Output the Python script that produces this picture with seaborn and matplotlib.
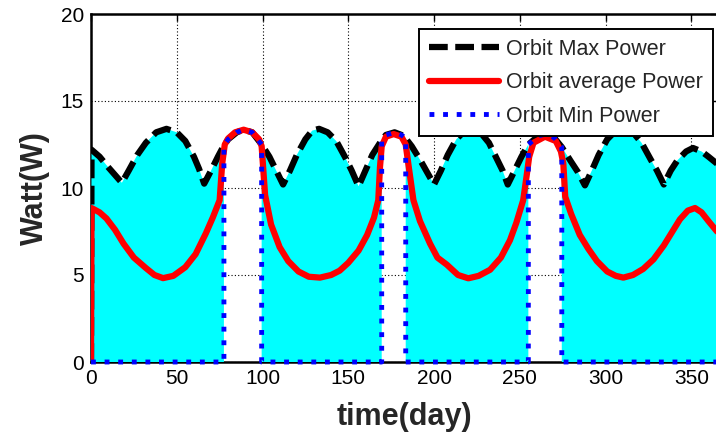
import numpy as np
import matplotlib
matplotlib.use("Agg")
import matplotlib.pyplot as plt
import seaborn as sns

# Orbit maximum power over one year (day, W)
max_day = [0, 0.3, 5, 10, 14, 18, 22, 27, 32, 38, 44, 50, 55, 60, 63, 66, 70, 74,
           77.5, 80, 85, 89, 94, 99.5, 104, 108, 112, 116, 120, 125, 129, 133, 138,
           143, 148, 152, 156, 160, 164, 169.5, 172, 177, 181, 183.5, 187, 192, 196,
           200, 204, 208, 213, 218, 222, 227, 232, 236, 240, 243, 247, 251, 255, 261,
           265, 270, 274.5, 280, 284, 288, 292, 296, 301, 306, 311, 316, 321, 326,
           330, 334, 338, 342, 347, 351, 356, 360, 365]
max_w = [0, 12.2, 11.8, 11.2, 10.75, 10.3, 11.0, 11.9, 12.6, 13.2, 13.4, 13.2, 12.7,
         11.8, 11.1, 10.25, 11.0, 11.8, 12.45, 12.8, 13.2, 13.35, 13.2, 12.5, 11.8,
         11.0, 10.2, 11.0, 11.9, 12.8, 13.3, 13.4, 13.2, 12.7, 11.8, 11.0, 10.1, 11.0,
         11.9, 12.75, 13.05, 13.2, 13.05, 12.85, 12.4, 11.6, 10.9, 10.2, 11.0, 11.9,
         12.8, 13.3, 13.4, 13.2, 12.6, 11.8, 11.0, 10.2, 11.0, 11.8, 12.5, 13.0, 13.1,
         12.9, 12.35, 11.5, 10.9, 10.15, 11.0, 11.9, 12.8, 13.3, 13.4, 13.2, 12.6,
         11.7, 11.0, 10.2, 11.0, 11.6, 12.1, 12.3, 12.1, 11.8, 11.4]

# Orbit average power (day, W)
avg_day = [0, 0.3, 5, 9, 14, 19, 25, 32, 37, 42, 48, 55, 61, 67, 71, 75, 76.5, 78,
           80, 84, 89, 94, 98, 99.5, 101.5, 105, 110, 115, 121, 127, 133.5, 140, 145,
           150, 156, 161, 165, 167.5, 168.5, 169.5, 172, 176.5, 181, 183.5, 185, 188,
           191.8, 197.7, 202, 207.4, 214, 220, 226, 232.7, 239, 244.3, 248, 252, 254,
           255.5, 258, 264.7, 271, 274, 275.4, 276.5, 280, 285, 290, 295, 301, 306,
           310.4, 316, 322, 328, 334, 339, 343.4, 348, 352.2, 356, 360, 365]
avg_w = [0, 8.85, 8.6, 8.25, 7.6, 6.8, 6.0, 5.4, 5.0, 4.82, 4.95, 5.45, 6.2, 7.4, 8.3,
         9.3, 11.4, 12.5, 12.85, 13.2, 13.35, 13.2, 12.8, 12.4, 9.6, 7.9, 6.6, 5.8,
         5.2, 4.9, 4.85, 5.0, 5.25, 5.7, 6.4, 7.3, 8.3, 9.3, 11.2, 12.4, 12.95, 13.1,
         12.95, 12.5, 11.4, 9.3, 8.1, 6.8, 6.0, 5.6, 5.0, 4.81, 4.95, 5.3, 6.0, 7.0,
         8.0, 9.3, 10.7, 11.8, 12.6, 12.95, 12.7, 12.1, 11.4, 9.5, 8.5, 7.3, 6.5, 5.8,
         5.2, 4.95, 4.85, 5.0, 5.35, 5.9, 6.7, 7.5, 8.2, 8.7, 8.85, 8.6, 8.1, 7.5]

# Eclipse-free seasons (minimum power equals maximum power)
sun_start = [77.5, 169.5, 255.0]
sun_end = [99.5, 183.5, 274.5]

x_ticks = [0, 50, 100, 150, 200, 250, 300, 350]
y_ticks = [0, 5, 10, 15, 20]
series_labels = ["Orbit Max Power", "Orbit average Power", "Orbit Min Power"]

sns.set_theme(style="white")
plt.rcParams["font.family"] = ["Liberation Sans", "DejaVu Sans"]

W, H = 716, 436
fig = plt.figure(figsize=(W / 100, H / 100), dpi=100)
ax = fig.add_axes([91 / W, (H - 362) / H, 626 / W, 348 / H])

md = np.array(max_day)
mw = np.array(max_w)
sunlit = np.zeros(md.shape, dtype=bool)
for s, e in zip(sun_start, sun_end):
    sunlit |= (md > s) & (md < e)

# instantaneous power band (filled where the orbit has an eclipse)
ax.fill_between(md, 0, mw, where=~sunlit, color="#00ffff", linewidth=0, zorder=1)

# minimum power: zero in eclipse seasons, equal to the maximum otherwise
min_day, min_w = [0.0], [0.0]
for s, e in zip(sun_start, sun_end):
    inside = (md >= s) & (md <= e)
    min_day += [s] + list(md[inside]) + [e]
    min_w += [0.0] + list(mw[inside]) + [0.0]
min_day.append(365.0)
min_w.append(0.0)

sns.lineplot(x=max_day, y=max_w, ax=ax, estimator=None, sort=False, color="black",
             linewidth=4.5, linestyle=(0, (3, 1.2)), label=series_labels[0], zorder=3)
sns.lineplot(x=avg_day, y=avg_w, ax=ax, estimator=None, sort=False, color="red",
             linewidth=4.5, label=series_labels[1], zorder=4)
sns.lineplot(x=min_day, y=min_w, ax=ax, estimator=None, sort=False,
             color="blue", linewidth=3.5, linestyle=(0, (1, 1.8)),
             label=series_labels[2], zorder=5)
ax.lines[-1].set_clip_on(False)

ax.set_xlim(0, 365)
ax.set_ylim(0, 20)
ax.set_xticks(x_ticks)
ax.set_yticks(y_ticks)
ax.grid(True, color="black", linestyle=(0, (1, 2)), linewidth=0.8)
ax.set_axisbelow(True)
ax.tick_params(direction="in", length=5, width=1, top=True, right=True,
               labelsize=15, pad=5, colors="black")
for name, sp in ax.spines.items():
    sp.set_visible(True)
    sp.set_color("black")
    sp.set_linewidth(1.8)
ax.spines["bottom"].set_zorder(0.6)
ax.spines["left"].set_zorder(0.6)

ax.set_xlabel("time(day)", fontsize=22, fontweight="bold", labelpad=10)
ax.set_ylabel("Watt(W)", fontsize=22, fontweight="bold", labelpad=8)

leg = ax.legend(loc="upper right", bbox_to_anchor=(713 / W, (H - 29) / H),
                bbox_transform=fig.transFigure, fontsize=15.5, frameon=True,
                fancybox=False, shadow=False, borderaxespad=0, borderpad=0.45,
                handlelength=3.25, handletextpad=0.35, labelspacing=0.58)
leg.get_frame().set_edgecolor("black")
leg.get_frame().set_linewidth(1.4)
leg.get_frame().set_alpha(1)

fig.savefig("out.png", dpi=100)
